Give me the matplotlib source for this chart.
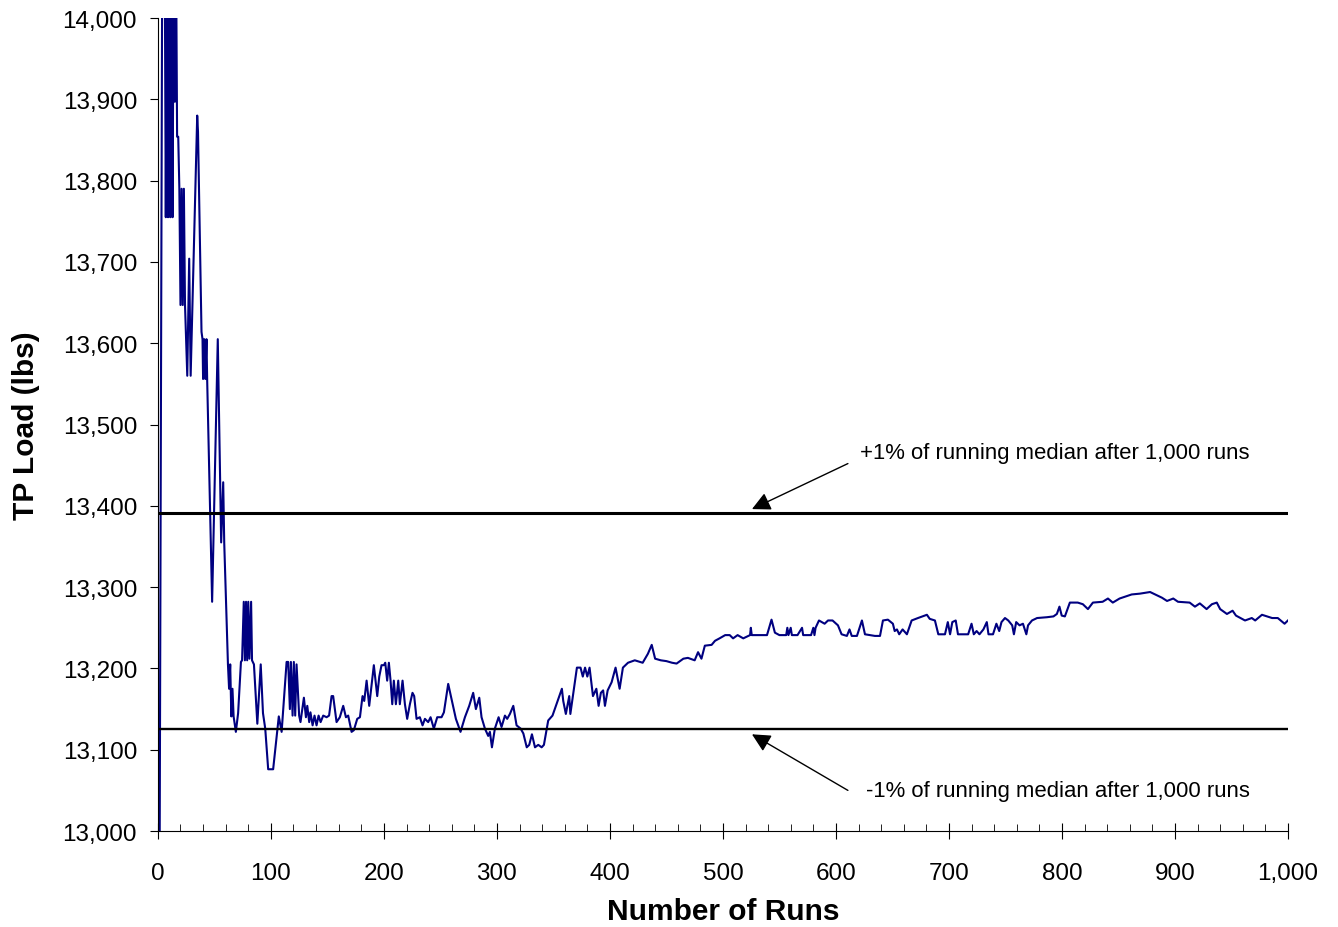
import matplotlib
matplotlib.use("Agg")
import matplotlib.pyplot as plt
from matplotlib.ticker import MultipleLocator, FuncFormatter

plt.rcParams['font.family'] = ['Liberation Sans', 'DejaVu Sans']

# running median of TP load
runs = [1, 4, 5, 6, 7, 8, 9, 10, 11, 12, 13, 14, 15, 16, 17, 18, 19, 20, 21, 22,
        23, 24, 26, 27.7, 29, 34.8, 35.5, 38.6, 39.5, 40, 41, 42, 43, 43.6, 48, 53,
        56, 57.8, 58.7, 62, 63, 64, 65, 66, 67, 69, 71, 73.5, 74.5, 76, 77, 78,
        79, 80, 81, 82.5, 83.3, 85, 88, 91, 93, 95, 97.6, 102, 107, 109.5,
        113.9, 115.3, 116.8, 117.7, 119.2, 120.3, 121.5, 122.7, 125, 126.2, 129.2,
        131, 132.2, 133.9, 135, 136.9, 138.6, 140.4, 142.2, 144, 146.3, 149.3,
        151.5, 153.7, 155.1, 158.1, 161, 164, 166.4, 168.4, 171.4, 173.4, 176.4,
        178.8, 181.1, 182.6, 184.7, 187, 189.1, 191.1, 194.1, 195.9, 197.9, 200,
        201.2, 202.9, 204.4, 205.9, 207.4, 208.8, 210.6, 212.7, 214.1, 216.5,
        218.6, 220.6, 223, 225.3, 226.8, 228.9, 231.8, 234.2, 236.3, 239.2, 241.3,
        244.2, 247.2, 251, 253.1, 256.9, 260.8, 263.7, 266.7, 267.8, 271.7, 275.5,
        279, 281.4, 284.4, 286.4, 289.4, 292.3, 293.8, 295.6, 298.2, 301.5, 304.1,
        307.1, 309.1, 311.5, 314.5, 317.4, 321, 323.4, 326.4, 328.6, 331, 333.7,
        336.6, 339.6, 341.6, 345.4, 349.2, 352.2, 354.6, 357.5, 358.7, 361, 364,
        365, 370.8, 374, 376, 378, 380, 382, 385, 388, 390, 392, 394, 395.6, 398,
        401.5, 405, 408.6, 411.5, 416, 422, 429, 433.6, 437, 440, 445, 450, 455,
        459, 465, 469, 475, 478, 481, 484, 490, 493, 497, 502, 506, 509, 513, 518,
        524, 524.7, 525.5, 533, 539, 543, 546, 550, 556, 557, 558, 560, 561, 566,
        570, 571, 578, 580, 581, 582, 585, 590, 593, 597, 601.8, 605, 609.7, 612,
        614, 618.6, 623, 625.7, 634.5, 639, 641.6, 646, 650.4, 652, 654, 656, 659,
        662.8, 667, 672.6, 680.5, 683, 687.6, 690.6, 696.5, 699, 701, 703, 706,
        708, 712.4, 717, 720, 722, 724.5, 727, 730.5, 733.5, 735, 739, 742, 744.5,
        746.5, 749.6, 752.5, 756, 757.5, 759.5, 762.5, 765.5, 768.5, 770, 773.5,
        778, 786.7, 792.5, 795.5, 797.8, 799.8, 802.6, 807, 814, 818.5, 823, 827.4,
        836, 840.7, 845, 851, 861.7, 869, 878, 884, 888.5, 893, 898.5, 902.7, 913,
        917.7, 922, 928, 932.7, 937, 940, 946, 951, 954, 962, 968, 971, 977, 986,
        991, 997, 1000]
tp_load = [12700, 14150, 14100, 14100, 13755, 14100, 13755, 14100, 13755, 14100,
           13755, 14100, 13897, 14100, 13854, 13854, 13790, 13647, 13790, 13647,
           13790, 13647, 13560, 13704, 13560, 13880, 13860, 13614, 13605, 13556,
           13605, 13556, 13605, 13556, 13282, 13605, 13355, 13429, 13355, 13205,
           13175, 13205, 13141, 13175, 13141, 13122, 13145, 13208, 13210, 13282,
           13210, 13282, 13210, 13282, 13212, 13282, 13210, 13205, 13132, 13205,
           13145, 13126, 13076, 13076, 13141, 13122,
           13208, 13208, 13150, 13208, 13142, 13208, 13142, 13205, 13142, 13134,
           13164, 13140, 13154, 13134, 13146, 13130, 13142, 13130, 13142, 13134,
           13142, 13140, 13142, 13166, 13166, 13134, 13140, 13154, 13140, 13142,
           13122, 13124, 13138, 13140, 13166, 13160, 13185, 13154, 13180, 13204,
           13166, 13190, 13204, 13204, 13207, 13185, 13207, 13185, 13156, 13185,
           13156, 13185, 13156, 13185, 13156, 13138, 13156, 13170, 13166, 13138,
           13140, 13130, 13138, 13134, 13140, 13126, 13140, 13140, 13146, 13181,
           13156, 13138, 13126, 13122, 13140, 13154, 13170, 13150, 13164, 13140,
           13126, 13117, 13122, 13103, 13126, 13140, 13128, 13142, 13138, 13144,
           13154, 13130, 13126, 13120, 13103, 13106, 13119, 13103, 13106, 13103,
           13106, 13136, 13142, 13154, 13164, 13175, 13160, 13144, 13166, 13144,
           13201, 13201, 13190, 13201, 13190, 13201, 13166, 13175, 13154, 13170,
           13173, 13154, 13173, 13183, 13201, 13175, 13201, 13207, 13210, 13207,
           13218, 13229, 13212, 13210, 13209, 13207, 13206, 13212, 13213, 13210,
           13220, 13212, 13228, 13229, 13234, 13237, 13241, 13241, 13237, 13241,
           13237, 13241, 13250, 13241, 13241, 13241, 13260, 13244, 13241, 13241,
           13250, 13241, 13250, 13241, 13241, 13250, 13241, 13241, 13250, 13241,
           13250, 13259, 13255, 13259, 13259, 13253, 13242, 13240, 13248, 13240,
           13240, 13259, 13242, 13240, 13240, 13259, 13260, 13255, 13246, 13248,
           13242, 13248, 13242, 13259, 13262, 13266, 13261, 13259, 13242, 13242,
           13257, 13242, 13257, 13259, 13242, 13242, 13242, 13255, 13242, 13246,
           13242, 13248, 13257, 13242, 13242, 13255, 13246, 13257, 13262, 13259,
           13253, 13242, 13257, 13253, 13255, 13242, 13253, 13259, 13262, 13263,
           13264, 13267, 13276, 13265, 13264, 13281, 13281, 13279, 13273, 13281,
           13282, 13286, 13281, 13286, 13291, 13292, 13294, 13290, 13287, 13283,
           13286, 13282, 13281, 13276, 13280, 13273, 13279, 13281, 13273, 13267,
           13271, 13265, 13259, 13262, 13259, 13266, 13262, 13262, 13255, 13259]

median_1000 = 13258
upper_band = median_1000 * 1.01
lower_band = median_1000 * 0.99

fig = plt.figure(figsize=(13.38, 9.28), dpi=100)
ax = fig.add_axes([0.118, 0.1034, 0.8446, 0.8761])

ax.plot(runs, tp_load, color='#000080', lw=1.5)
ax.plot([0, 1000], [upper_band, upper_band], color='black', lw=2.2)
ax.plot([0, 1000], [lower_band, lower_band], color='black', lw=1.7)

# annotations
ax.annotate('', xy=(525.7, 13396), xytext=(610.6, 13452),
            arrowprops=dict(arrowstyle='-|>', color='black', lw=1,
                            mutation_scale=28, shrinkA=0, shrinkB=0))
ax.text(621, 13466, '+1% of running median after 1,000 runs', fontsize=15.9,
        ha='left', va='center')
ax.annotate('', xy=(525.7, 13119), xytext=(610.6, 13050),
            arrowprops=dict(arrowstyle='-|>', color='black', lw=1,
                            mutation_scale=28, shrinkA=0, shrinkB=0))
ax.text(626.5, 13050, '-1% of running median after 1,000 runs', fontsize=15.9,
        ha='left', va='center')

ax.set_xlim(0, 1000)
ax.set_ylim(13000, 14000)
ax.xaxis.set_major_locator(MultipleLocator(100))
ax.xaxis.set_minor_locator(MultipleLocator(20))
ax.yaxis.set_major_locator(MultipleLocator(100))
ax.xaxis.set_major_formatter(FuncFormatter(lambda v, p: f"{int(v):,}"))
ax.yaxis.set_major_formatter(FuncFormatter(lambda v, p: f"{int(v):,}"))

ax.tick_params(axis='x', which='major', direction='inout', length=11,
               labelsize=17.5, pad=17)
ax.tick_params(axis='x', which='minor', direction='in', length=5)
ax.tick_params(axis='y', which='major', direction='out', length=6,
               labelsize=17.5, pad=9)

for s in ['top', 'right']:
    ax.spines[s].set_visible(False)

ax.set_xlabel('Number of Runs', fontsize=21.5, fontweight='bold', labelpad=9)
ax.set_ylabel('TP Load (lbs)', fontsize=21.5, fontweight='bold', labelpad=16)

fig.savefig('out.png', dpi=100)
